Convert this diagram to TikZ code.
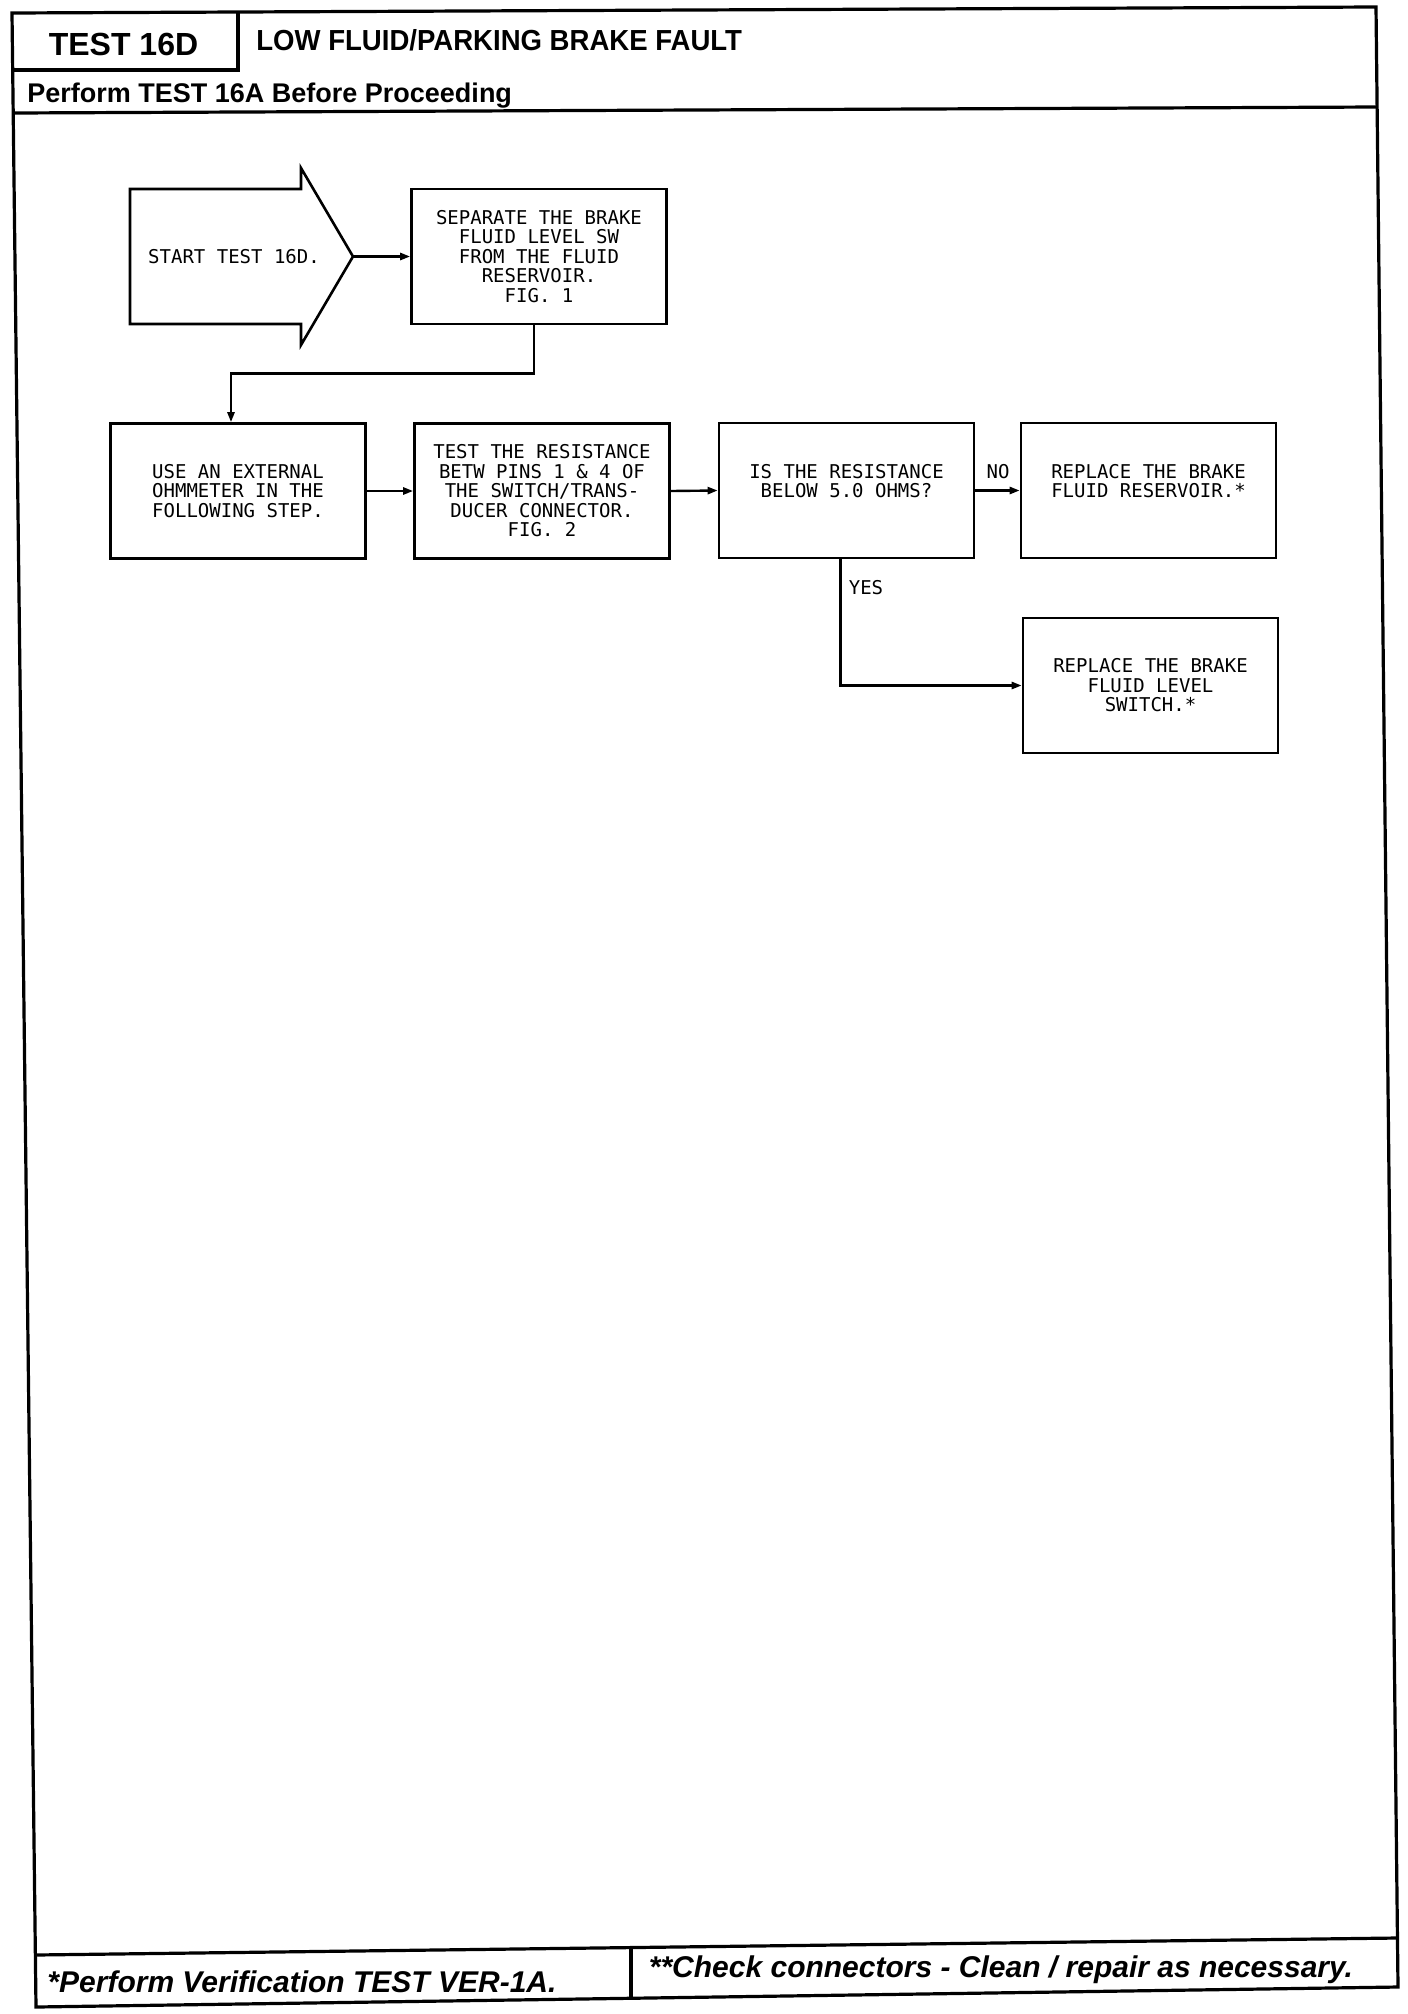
\documentclass[tikz,border=0pt]{standalone}
\usepackage{fontspec}
\setmainfont{Liberation Sans}
\newfontfamily\narrowfont[FakeStretch = 0.95]{Liberation Sans}
\newfontfamily\plotfont{DejaVu Sans Mono}
\usetikzlibrary{arrows.meta}

\begin{document}
\begin{tikzpicture}[x = 0.5pt, y = -0.5pt,
	frame/.style = {line width = 1.6pt, black},
	stepbox/.style = {draw, black, line width = 1.3pt, minimum width = 127.5pt, minimum height = 67.5pt, inner sep = 0pt, align = center, font = \plotfont\fontsize{9.5pt}{9.75pt}\selectfont},
	tag/.style = {inner sep = 0pt, font = \plotfont\fontsize{9.5pt}{9.75pt}\selectfont},
	flow/.style = {line width = 1.2pt, black, -{Triangle[length = 5pt, width = 3.5pt]}}]
	\useasboundingbox (0, 0) rectangle (1408, 2014);

	\draw[frame] (12, 13) -- (1376, 7) -- (1398, 1987) -- (36, 2007) -- cycle;
	\draw[frame] (238, 12) -- (238, 70) -- (12.5, 70);
	\draw[frame] (14, 113) -- (1377, 107);
	\draw[frame] (35, 1955) -- (1397, 1938);
	\draw[frame] (631, 1947.6) -- (631, 1998);

	\node[anchor = base, inner sep = 0pt, font = \bfseries\fontsize{16pt}{16pt}\selectfont] (testno) at (123.5, 55) {TEST 16D};
	\node[anchor = base west, inner sep = 0pt, font = \narrowfont\bfseries\fontsize{14.5pt}{14.5pt}\selectfont] (title) at (256, 50) {LOW FLUID/PARKING BRAKE FAULT};
	\node[anchor = base west, inner sep = 0pt, font = \bfseries\fontsize{13.5pt}{13.5pt}\selectfont] (before) at (27, 102) {Perform TEST 16A Before Proceeding};
	\node[anchor = base, inner sep = 0pt, font = \bfseries\itshape\fontsize{15pt}{15pt}\selectfont] (verify) at (302, 1992) {*Perform Verification TEST VER-1A.};
	\node[anchor = base, inner sep = 0pt, font = \bfseries\itshape\fontsize{15pt}{15pt}\selectfont] (check) at (1001, 1977) {**Check connectors - Clean / repair as necessary.};

	\draw[line width = 1.3pt, black] (130, 189) -- (301, 189) -- (301, 168) -- (353, 256.5) -- (301, 345) -- (301, 324) -- (130, 324) -- cycle;
	\coordinate (tip) at (353, 256.5);
	\node[tag] (start) at (234, 257) {START TEST 16D.};

	\node[stepbox] (sep) at (539, 256.5) {SEPARATE THE BRAKE\\FLUID LEVEL SW\\FROM THE FLUID\\RESERVOIR.\\FIG. 1};
	\node[stepbox] (ohm) at (238, 491) {USE AN EXTERNAL\\OHMMETER IN THE\\FOLLOWING STEP.};
	\node[stepbox] (res) at (542, 491) {TEST THE RESISTANCE\\BETW PINS 1 \& 4 OF\\THE SWITCH/TRANS-\\DUCER CONNECTOR.\\FIG. 2};
	\node[stepbox] (ask) at (846.5, 490.5) {IS THE RESISTANCE\\BELOW 5.0 OHMS?\\ \mbox{}};
	\node[stepbox] (rsv) at (1148.5, 490.5) {REPLACE THE BRAKE\\FLUID RESERVOIR.*\\ \mbox{}};
	\node[stepbox] (sw) at (1150.5, 685.5) {REPLACE THE BRAKE\\FLUID LEVEL\\SWITCH.*};

	\draw[flow] (tip) -- (sep.west);
	\draw[flow] ([xshift = -2.5pt]sep.south) -- ++(0, 48) -| ([xshift = -3.5pt]ohm.north);
	\draw[flow] (ohm.east) -- (res.west);
	\draw[flow] (res.east) -- (ask.west);
	\draw[flow] (ask.east) -- (rsv.west);
	\draw[flow] ([xshift = -3pt]ask.south) |- (sw.west);

	\node[tag] (no) at (998, 472) {NO};
	\node[tag] (yes) at (866, 588) {YES};
\end{tikzpicture}
\end{document}
